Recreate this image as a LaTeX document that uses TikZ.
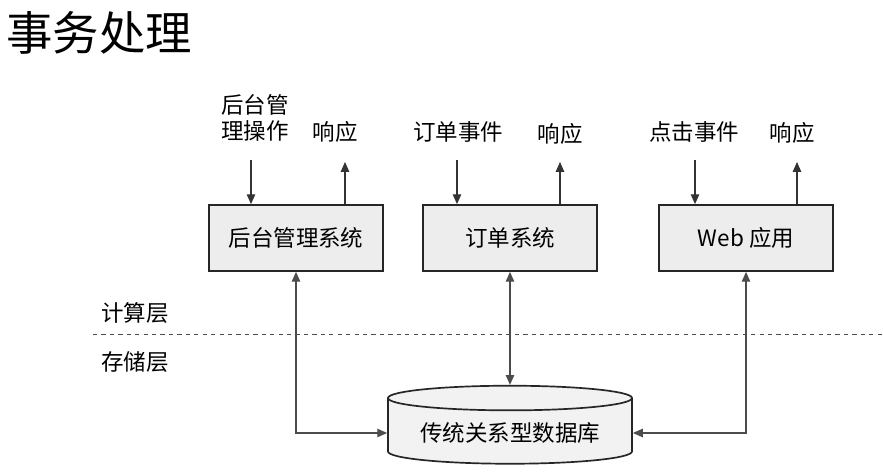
\documentclass[tikz,border=0pt]{standalone}
\usepackage{fontspec}
\setmainfont{Noto Sans CJK SC}
\usetikzlibrary{arrows.meta,positioning,shapes.geometric}

\begin{document}
\begin{tikzpicture}[x=0.025cm, y=-0.025cm,
    sysbox/.style={rectangle, draw=black!85, line width=1.2pt, fill=black!7,
        minimum width=4.35cm, minimum height=1.65cm, font=\fontsize{16}{19}\selectfont},
    dbnode/.style={cylinder, shape border rotate=90, aspect=0.13, draw=black!85,
        line width=1.2pt, fill=black!5, minimum width=6.1cm, minimum height=1.95cm,
        font=\fontsize{16}{19}\selectfont},
    lbl/.style={inner sep=0pt, font=\fontsize{16}{19}\selectfont, align=center},
    arrow/.style={-{Triangle[width=6pt,length=7pt]}, line width=0.8pt, black!80},
    biarrow/.style={{Triangle[width=6pt,length=7pt]}-{Triangle[width=6pt,length=7pt]}, line width=0.8pt, black!70}
]
\useasboundingbox (0,0) rectangle (883,472);

% Title
\node[inner sep=0pt, anchor=west, font=\fontsize{33}{36}\selectfont] (title) at (6,33) {事务处理};

% Systems (compute layer)
\foreach \n/\x/\t in {1/296/后台管理系统, 2/510/订单系统, 3/746/Web 应用} {
    \node[sysbox] (sys\n) at (\x, 238) {\t};
}

% Requests and responses
\coordinate (in1) at (251,160);
\coordinate (out1) at (345,162);
\coordinate (in2) at (457,160);
\coordinate (out2) at (560,162);
\coordinate (in3) at (695,160);
\coordinate (out3) at (797,162);

\node[lbl] (req1) at (255,118) {后台管\\理操作};
\node[lbl] (resp1) at (335,132) {响应};
\node[lbl] (req2) at (458,132) {订单事件};
\node[lbl] (resp2) at (560,134) {响应};
\node[lbl] (req3) at (694,132) {点击事件};
\node[lbl] (resp3) at (792,133) {响应};

\foreach \i in {1,2,3} {
    \draw[arrow] (in\i) -- (in\i |- sys\i.north);
    \draw[arrow] (out\i |- sys\i.north) -- (out\i);
}

% Layers
\node[lbl, anchor=west] (compute) at (101,313) {计算层};
\node[lbl, anchor=west] (storage) at (101,362) {存储层};
\coordinate (sepL) at (93,334);
\coordinate (sepR) at (883,334);
\draw[dashed, black!70, line width=0.6pt] (sepL) -- (sepR);

% Database (storage layer)
\node[dbnode] (db) at (510,433) {传统关系型数据库};

% Connections
\draw[biarrow] (sys1.south) |- (db.west);
\draw[biarrow] (sys2.south) -- (db.north);
\draw[biarrow] (sys3.south) |- (db.east);

\end{tikzpicture}
\end{document}
